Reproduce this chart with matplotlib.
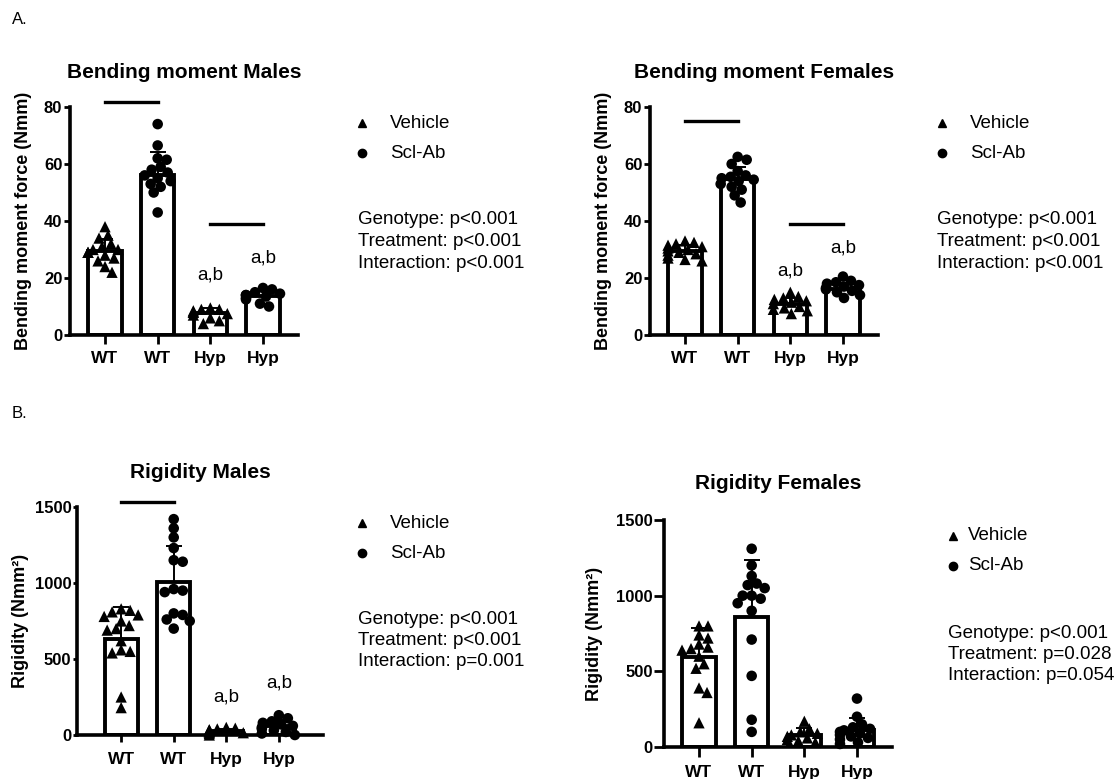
import numpy as np
import matplotlib
matplotlib.use('Agg')
import matplotlib.pyplot as plt

plt.rcParams['font.family'] = ['Liberation Sans', 'DejaVu Sans']

W, H = 1119, 779

groups = ['WT', 'WT', 'Hyp', 'Hyp']
markers = ['^', 'o', '^', 'o']

# Bending moment, males (Nmm)
bm_m_wt_veh = [38, 35, 34, 32, 31, 30, 30, 29, 29, 28, 27, 26, 24, 22]
bm_m_wt_scl = [74, 66.5, 62, 61.5, 59, 58, 57, 56, 55, 54, 53, 52, 50, 43]
bm_m_hyp_veh = [9.5, 9, 9, 8.5, 8, 8, 7.5, 7, 6, 5, 4]
bm_m_hyp_scl = [16.5, 16, 15, 14.5, 14, 14, 13.5, 13, 12.5, 11, 10]
bm_m_mean = [29.3, 56.2, 7.6, 13.7]
bm_m_sd = [4.5, 8.0, 1.8, 1.9]

# Bending moment, females (Nmm)
bm_f_wt_veh = [33, 32.5, 32, 31.5, 31, 30.5, 30, 29.5, 29, 28.5, 28, 27, 26.5, 26]
bm_f_wt_scl = [62.5, 61.5, 60, 57.5, 56, 55.5, 55, 54.5, 54, 53, 52, 51, 49, 46.5]
bm_f_hyp_veh = [15, 13.5, 13, 12.5, 12, 11.5, 11, 10, 9.5, 9, 8.5, 7.5]
bm_f_hyp_scl = [20.5, 19, 18.5, 18, 17.5, 17, 16.5, 16, 15.5, 15, 14, 13]
bm_f_mean = [29.5, 54.7, 10.9, 16.3]
bm_f_sd = [2.0, 4.2, 2.0, 2.0]

# Rigidity, males (Nmm^2)
rg_m_wt_veh = [830, 820, 810, 790, 780, 750, 720, 700, 690, 620, 560, 550, 540, 250, 180]
rg_m_wt_scl = [1420, 1360, 1300, 1230, 1150, 1140, 960, 950, 940, 800, 790, 760, 750, 700]
rg_m_hyp_veh = [50, 45, 40, 35, 30, 30, 25, 20, 20, 15, 10, 0]
rg_m_hyp_scl = [130, 110, 90, 80, 70, 60, 50, 40, 30, 20, 10, 0]
rg_m_mean = [630, 1004, 25, 60]
rg_m_sd = [210, 237, 15, 40]

# Rigidity, females (Nmm^2)
rg_f_wt_veh = [800, 800, 740, 720, 680, 660, 650, 640, 600, 550, 520, 390, 360, 160]
rg_f_wt_scl = [1310, 1200, 1130, 1080, 1070, 1050, 1000, 1000, 980, 950, 900, 710, 470, 180, 100]
rg_f_hyp_veh = [170, 120, 100, 90, 80, 70, 60, 50, 40, 30]
rg_f_hyp_scl = [320, 200, 150, 130, 120, 110, 100, 90, 80, 70, 60, 50, 30, 20]
rg_f_mean = [594, 862, 80, 110]
rg_f_sd = [191, 374, 45, 80]

stats_bm_m = ['Genotype: p<0.001', 'Treatment: p<0.001', 'Interaction: p<0.001']
stats_bm_f = ['Genotype: p<0.001', 'Treatment: p<0.001', 'Interaction: p<0.001']
stats_rg_m = ['Genotype: p<0.001', 'Treatment: p<0.001', 'Interaction: p=0.001']
stats_rg_f = ['Genotype: p<0.001', 'Treatment: p=0.028', 'Interaction: p=0.054']

FS_TICK = 12
FS_LAB = 13
FS_TITLE = 15
FS_TXT = 13.5


def swarm(vals, xscale, yscale, diam=10.5, maxoff=17.0):
    """simple beeswarm: offsets in data x units"""
    placed = []
    offs = np.zeros(len(vals))
    order = np.argsort(vals)[::-1]
    cands = [0.0]
    for k in np.arange(1.0, maxoff + 0.1, 1.0):
        cands += [k, -k]
    for i in order:
        y = vals[i] * yscale
        best = cands[-1]
        for c in cands:
            if all((c - px) ** 2 + (y - py) ** 2 >= (diam * 0.85) ** 2 for px, py in placed):
                best = c
                break
        placed.append((best, y))
        offs[i] = best / xscale
    return offs


def panel(rect, data, means, sds, ymax, yticks, ylabel, ylab_x, xlim, title, title_y,
          ytick_len, xtick_len, xpad):
    ax = fig.add_axes([rect[0] / W, 1 - rect[1] / H, rect[2] / W, rect[3] / H])
    x = np.arange(4)
    ax.bar(x, means, width=0.63, color='white', edgecolor='black', linewidth=2.8, zorder=1)
    ax.errorbar(x, means, yerr=[np.zeros(4), sds], fmt='none', ecolor='black',
                elinewidth=1.4, capsize=6, capthick=1.4, zorder=2)
    xscale = rect[2] / (xlim[1] - xlim[0])
    yscale = rect[3] / ymax
    for i, vals in enumerate(data):
        vals = np.array(vals, dtype=float)
        offs = swarm(vals, xscale, yscale)
        ax.scatter(i + offs, vals, marker=markers[i], s=58 if markers[i] == 'o' else 66,
                   color='black', edgecolor='none', zorder=3, clip_on=False)
    ax.set_xlim(*xlim)
    ax.set_ylim(0, ymax)
    ax.set_yticks(yticks)
    ax.set_xticks(x)
    ax.set_xticklabels(groups, fontweight='bold', fontsize=FS_TICK + 0.5)
    for lab in ax.get_yticklabels():
        lab.set_fontweight('bold')
        lab.set_fontsize(FS_TICK)
    ax.tick_params(axis='y', width=2, length=ytick_len, pad=1)
    ax.tick_params(axis='x', width=2, length=xtick_len, pad=xpad)
    for s in ['top', 'right']:
        ax.spines[s].set_visible(False)
    for s in ['left', 'bottom']:
        ax.spines[s].set_linewidth(2.6)
    cy = rect[1] - rect[3] / 2
    fig.text(ylab_x / W, 1 - cy / H, ylabel, rotation=90, ha='center', va='center',
             fontweight='bold', fontsize=FS_LAB)
    cx = rect[0] + rect[2] / 2
    fig.text(cx / W, 1 - title_y / H, title, ha='center', va='center',
             fontweight='bold', fontsize=FS_TITLE)
    return ax


def legend_block(tx, ty, mx, stats, sx, sy):
    fig.lines.append(plt.Line2D([mx / W], [1 - ty / H], marker='^', markersize=6,
                                color='black', linestyle='none', transform=fig.transFigure))
    fig.lines.append(plt.Line2D([mx / W], [1 - (ty + 30) / H], marker='o', markersize=6,
                                color='black', linestyle='none', transform=fig.transFigure))
    fig.text(tx / W, 1 - ty / H, 'Vehicle', fontsize=FS_TXT, va='center')
    fig.text(tx / W, 1 - (ty + 30) / H, 'Scl-Ab', fontsize=FS_TXT, va='center')
    for k, line in enumerate(stats):
        fig.text(sx / W, 1 - (sy + 21.5 * k) / H, line, fontsize=FS_TXT, va='center')


fig = plt.figure(figsize=(W / 100, H / 100), dpi=100)

fig.text(12 / W, 1 - 20 / H, 'A.', fontsize=12, va='center')
fig.text(12 / W, 1 - 413 / H, 'B.', fontsize=12, va='center')

# A males
ax = panel((70, 335, 228, 228), [bm_m_wt_veh, bm_m_wt_scl, bm_m_hyp_veh, bm_m_hyp_scl],
           bm_m_mean, bm_m_sd, 80, [0, 20, 40, 60, 80], 'Bending moment force (Nmm)', 24,
           (-0.665, 3.665), 'Bending moment Males', 73, 4.5, 6.5, 5)
ax.plot([0, 1], [81.6, 81.6], color='black', lw=2.4, clip_on=False)
ax.plot([2, 3], [38.9, 38.9], color='black', lw=2.4)
ax.text(2, 21, 'a,b', ha='center', va='center', fontsize=FS_TXT)
ax.text(3, 27, 'a,b', ha='center', va='center', fontsize=FS_TXT)
legend_block(390, 123, 362, stats_bm_m, 358, 220)

# A females
ax = panel((650, 335, 228, 228), [bm_f_wt_veh, bm_f_wt_scl, bm_f_hyp_veh, bm_f_hyp_scl],
           bm_f_mean, bm_f_sd, 80, [0, 20, 40, 60, 80], 'Bending moment force (Nmm)', 603,
           (-0.665, 3.665), 'Bending moment Females', 73, 4.5, 6.5, 5)
ax.plot([0, 1], [75.2, 75.2], color='black', lw=2.4)
ax.plot([2, 3], [38.9, 38.9], color='black', lw=2.4)
ax.text(2, 22.6, 'a,b', ha='center', va='center', fontsize=FS_TXT)
ax.text(3, 30.4, 'a,b', ha='center', va='center', fontsize=FS_TXT)
legend_block(970, 123, 942, stats_bm_f, 937, 220)

# B males
ax = panel((77, 735, 246, 228), [rg_m_wt_veh, rg_m_wt_scl, rg_m_hyp_veh, rg_m_hyp_scl],
           rg_m_mean, rg_m_sd, 1500, [0, 500, 1000, 1500], 'Rigidity (Nmm²)', 21,
           (-0.84, 3.84), 'Rigidity Males', 472, 3, 5, 7)
ax.plot([0, 1], [1531, 1531], color='black', lw=2.4, clip_on=False)
ax.text(2, 253, 'a,b', ha='center', va='center', fontsize=FS_TXT)
ax.text(3, 345, 'a,b', ha='center', va='center', fontsize=FS_TXT)
legend_block(390, 523, 362, stats_rg_m, 358, 619)

# B females
ax = panel((664, 747, 228, 227), [rg_f_wt_veh, rg_f_wt_scl, rg_f_hyp_veh, rg_f_hyp_scl],
           rg_f_mean, rg_f_sd, 1500, [0, 500, 1000, 1500], 'Rigidity (Nmm²)', 595,
           (-0.665, 3.665), 'Rigidity Females', 483, 7, 7, 6)
legend_block(968, 536, 953, stats_rg_f, 948, 633)

fig.savefig('out.png', dpi=100)
